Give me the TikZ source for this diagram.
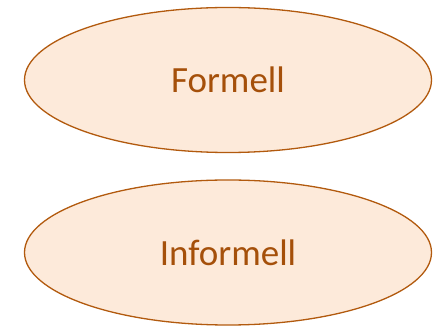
\documentclass[tikz,border=0pt]{standalone}
\usepackage{fontspec}
\setmainfont{Carlito}
\usepackage{tikz}
\usetikzlibrary{shapes.geometric,positioning}
\definecolor{ovalfill}{HTML}{FDEADA}
\definecolor{ovaldraw}{HTML}{B25A0E}
\definecolor{ovaltext}{HTML}{A5500A}
\begin{document}
\begin{tikzpicture}[x=1pt,y=1pt,
oval/.style={ellipse,draw=ovaldraw,fill=ovalfill,line width=1.3pt,minimum width=407pt,minimum height=145pt,inner sep=0pt,text=ovaltext,font=\fontsize{37}{42}\selectfont}]
\useasboundingbox (0,0) rectangle (433,326);
\node [oval] (formell) at (228,246) {Formell};
\node [oval] (informell) at (228,73.5) {Informell};
\end{tikzpicture}
\end{document}
